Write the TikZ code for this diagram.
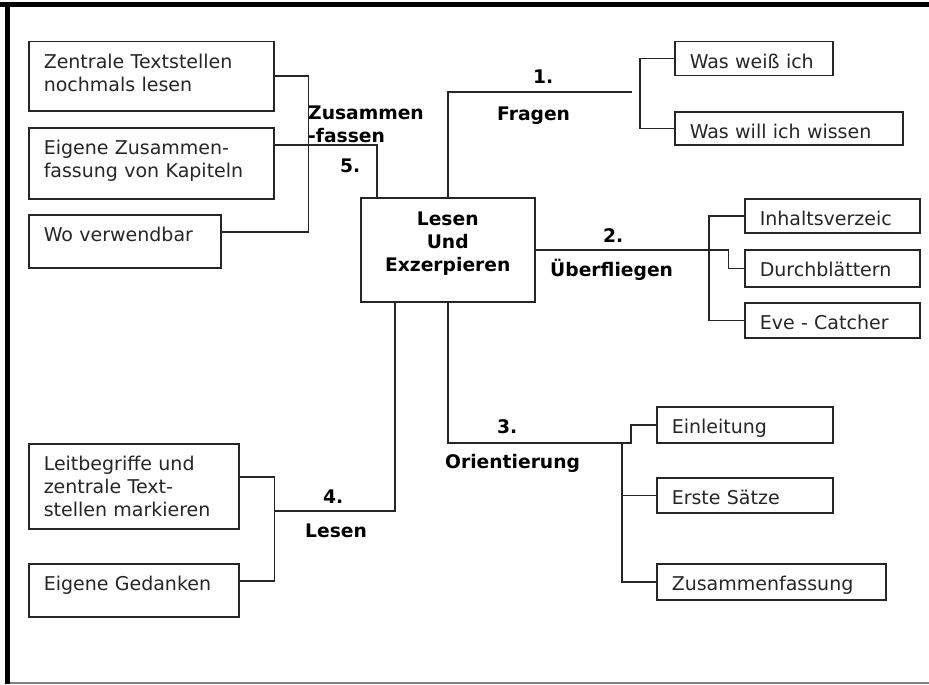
\documentclass[tikz,border=0pt]{standalone}
\usepackage{fontspec}
\setmainfont{DejaVu Sans}
\usetikzlibrary{calc}
\begin{document}
\begin{tikzpicture}[x=1pt,y=-1pt,
 box/.style={draw=black!85, line width=1.5pt, anchor=north west, inner xsep=15pt, inner ysep=0pt, text height=27pt, align=left, text=black!85, font=\fontsize{19}{23}\selectfont},
 hub/.style={draw=black!85, line width=1.5pt, anchor=north west, inner xsep=0pt, inner ysep=0pt, text height=28pt, align=center, text=black, font=\bfseries\fontsize{18.7}{22.8}\selectfont},
 lab/.style={anchor=base west, inner sep=0pt, text=black, font=\bfseries\fontsize{18.7}{22.8}\selectfont},
 conn/.style={draw=black!85, line width=1.5pt}
]
\fill[white] (0,0) rectangle (929,685);
\useasboundingbox (0,0) rectangle (929,685);
% frame
\fill[black] (0,1.7) rectangle (929,6.7);
\fill[black] (5,1.7) rectangle (10,684);
\draw[gray, line width=1.2pt] (10,683) -- (929,683);

% central node
\node[hub, text width=174pt, text depth=76pt] (main) at (360,197) {Lesen\\Und\\Exzerpieren};

% 5. Zusammenfassen
\node[box, text width=215pt, text depth=42pt] (z1) at (28,41) {Zentrale Textstellen\\nochmals lesen};
\node[box, text width=215pt, text depth=44pt] (z2) at (28,127) {Eigene Zusammen-\\fassung von Kapiteln};
\node[box, text width=162pt, text depth=26pt] (z3) at (28,214) {Wo verwendbar};

% 1. Fragen
\node[box, text width=128pt, text depth=7pt] (f1) at (674,41) {Was weiß ich};
\node[box, text width=198pt, text depth=6pt] (f2) at (674,111) {Was will ich wissen};

% 2. Ueberfliegen
\node[box, text width=145pt, text depth=7pt] (i1) at (744,198) {Inhaltsverzeic};
\node[box, text width=145pt, text depth=10pt] (d2) at (744,249) {Durchblättern};
\node[box, text width=145pt, text depth=8pt] (e3) at (744,302) {Eve - Catcher};

% 3. Orientierung
\node[box, text width=146pt, text depth=9pt] (o1) at (656,406) {Einleitung};
\node[box, text width=146pt, text depth=8pt] (o2) at (656,477) {Erste Sätze};
\node[box, text width=199pt, text depth=9pt] (o3) at (656,563) {Zusammenfassung};

% 4. Lesen
\node[box, text width=180pt, text depth=58pt] (l1) at (28,443) {Leitbegriffe und\\zentrale Text-\\stellen markieren};
\node[box, text width=180pt, text depth=26pt] (l2) at (28,563) {Eigene Gedanken};

% connectors 5
\draw[conn] (z1.east) -| ($(z3.north east)+(87,18)$) -- ($(z3.north east)+(0,18)$);
\draw[conn] ($(z2.north east)+(0,18)$) -| ([xshift=17pt]main.north west);
% connectors 1
\coordinate (e1) at (632,92);
\draw[conn] (main.north) |- (e1);
\draw[conn] (f1.west) -- ++(-34,0) |- (f2.west);
% connectors 2
\draw[conn] (main.east) -- ++(193,0) |- (d2.west);
\draw[conn] (i1.west) -- ++(-35,0) |- (e3.west);
% connectors 3
\draw[conn] (main.south) |- ($(o1.west)+(-25,18)$) |- (o1.west);
\draw[conn] ($(o1.west)+(-34,18)$) |- (o3.west);
\draw[conn] (o2.west) -- ++(-34,0);
% connectors 4
\draw[conn] ([xshift=35pt]main.south west) |- ($(l1.north east)+(35,68)$);
\draw[conn] ($(l1.north east)+(0,34)$) -| ($(l2.north east)+(35,18)$) -- ($(l2.north east)+(0,18)$);

% labels
\node[lab] (n1) at (533,84) {1.};
\node[lab] (t1) at (497,120) {Fragen};
\node[lab] (n2) at (603,242) {2.};
\node[lab] (t2) at (550,276) {Überfliegen};
\node[lab] (n3) at (497,433) {3.};
\node[lab] (t3) at (445,468) {Orientierung};
\node[lab] (n4) at (323,503) {4.};
\node[lab] (t4) at (305,537) {Lesen};
\node[lab] (t5a) at (308,119) {Zusammen};
\node[lab] (t5b) at (308,142) {-fassen};
\node[lab] (n5) at (340,172) {5.};
\end{tikzpicture}
\end{document}
